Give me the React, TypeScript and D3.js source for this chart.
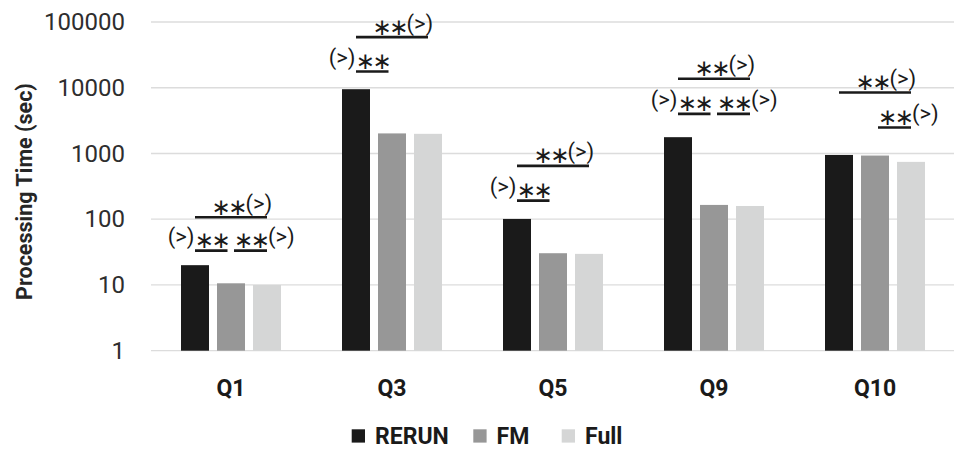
import React from "react";
import * as d3 from "d3";

const categories = ["Q1", "Q3", "Q5", "Q9", "Q10"];
const seriesNames = ["RERUN", "FM", "Full"];
const rerun = [20, 9500, 101, 1770, 950];
const fm = [10.6, 2020, 30.4, 165, 930];
const full = [10, 1990, 29.7, 159, 745];
const yTicks = [1, 10, 100, 1000, 10000, 100000];

// significance annotations: bars joined (series index), line level in seconds, side of "(>)"
const annCats = ["Q1", "Q1", "Q1", "Q3", "Q3", "Q5", "Q5", "Q9", "Q9", "Q9", "Q10", "Q10"];
const annFrom = [0, 1, 0, 0, 0, 0, 0, 0, 1, 0, 0, 1];
const annTo = [1, 2, 2, 1, 2, 1, 2, 1, 2, 2, 2, 2];
const annLevel = [33.3, 33.3, 107, 17650, 58900, 192, 648, 4010, 4010, 13670, 8450, 2480];
const annSide = ["left", "right", "right", "left", "right", "left", "right", "left", "right", "right", "right", "right"];

const colors = ["#1a1a1a", "#979797", "#d5d6d6"];

const W = 960;
const H = 453;

export default function App() {
  const x = d3.scaleBand<string>().domain(categories).range([150.5, 955.5]).padding(0);
  const y = d3.scaleLog().domain([1, 100000]).range([350.7, 22]);
  const barW = 28;
  const barStep = 36;
  const values = [rerun, fm, full];
  const cx = (cat: string, i: number) => (x(cat) as number) + x.bandwidth() / 2 + (i - 1) * barStep;

  const font = "Roboto, 'Liberation Sans', sans-serif";
  const starFont = "'DejaVu Sans', sans-serif";

  const anns = annCats.map((c, k) => {
    const from = annFrom[k];
    const to = annTo[k];
    const x1 = cx(c, from) + (from === 1 ? 3 : 0);
    const x2 = cx(c, to) - (to === 1 ? 3.5 : 0);
    const L = y(annLevel[k]);
    return { c, from, to, x1, x2, L, side: annSide[k], long: to - from === 2 };
  });

  const starsW = 31;
  const gtW = 25;

  const legendX = [351.7, 473.3, 561.7];

  return (
    <svg
      width={W}
      height={H}
      style={{ position: "absolute", left: 0, top: 0, background: "#fff" }}
      fontFamily={font}
    >
      <rect x={0} y={0} width={W} height={H} fill="#fff" />
      {/* gridlines */}
      {yTicks.map((t) => (
        <line key={t} x1={151} x2={954} y1={y(t)} y2={y(t)} stroke="#dcdcdc" strokeWidth={1.3} />
      ))}
      {/* tick labels */}
      {yTicks.map((t) => (
        <text key={"t" + t} x={125} y={y(t) + 8.2} textAnchor="end" fontSize={24} fill="#2e2e2e">
          {String(t)}
        </text>
      ))}
      {/* y title */}
      <text
        transform={`translate(32,191.5) rotate(-90)`}
        textAnchor="middle"
        fontSize={21.5}
        fontWeight="bold"
        fill="#262626"
      >
        Processing Time (sec)
      </text>
      {/* bars */}
      {categories.map((c, ci) =>
        values.map((vals, si) => (
          <rect
            key={c + si}
            x={cx(c, si) - barW / 2}
            y={y(vals[ci])}
            width={barW}
            height={y(1) - y(vals[ci])}
            fill={colors[si]}
          />
        ))
      )}
      {/* category labels */}
      {categories.map((c) => (
        <text
          key={"c" + c}
          x={(x(c) as number) + x.bandwidth() / 2}
          y={395.7}
          textAnchor="middle"
          fontSize={23}
          fontWeight="bold"
          fill="#1a1a1a"
        >
          {c}
        </text>
      ))}
      {/* annotations */}
      {anns.map((a, k) => {
        let starsCx: number;
        let gtX: number;
        if (a.long) {
          const right = a.x2 + 3.5;
          gtX = right - gtW;
          starsCx = gtX - 2 - starsW / 2;
        } else {
          starsCx = (a.x1 + a.x2) / 2;
          gtX = a.side === "left" ? starsCx - starsW / 2 - 3 - gtW : starsCx + starsW / 2 + 2;
        }
        return (
          <g key={"a" + k}>
            <line x1={a.x1} x2={a.x2} y1={a.L} y2={a.L} stroke="#1a1a1a" strokeWidth={2.6} />
            <text
              x={starsCx}
              y={a.L - 2.5}
              textAnchor="middle"
              fontFamily={starFont}
              fontSize={23}
              fill="#1a1a1a"
              letterSpacing={-2.5}
            >
              {"\u2217\u2217"}
            </text>
            <text x={gtX} y={a.L - 6.5} fontSize={22} fill="#1a1a1a">
              (&gt;)
            </text>
          </g>
        );
      })}
      {/* legend */}
      {seriesNames.map((s, i) => (
        <g key={"l" + s}>
          <rect x={legendX[i]} y={429.3} width={13.3} height={13.3} fill={colors[i]} />
          <text x={legendX[i] + 23.3} y={443.7} fontSize={23} fontWeight="bold" fill="#1a1a1a">
            {s}
          </text>
        </g>
      ))}
    </svg>
  );
}
